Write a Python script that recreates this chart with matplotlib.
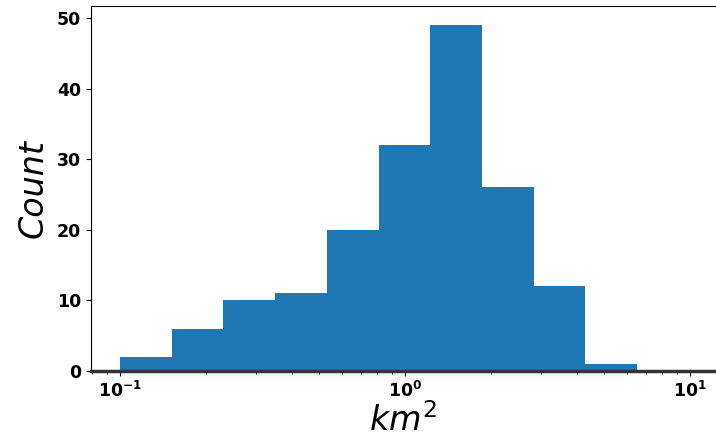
import numpy as np
import matplotlib
matplotlib.use("Agg")
import matplotlib.pyplot as plt

# bin edges (log spaced) and counts
bin_edges = np.geomspace(0.1, 6.53, 11)
counts = [2, 6, 10, 11, 20, 32, 49, 26, 12, 1]
bin_mids = np.sqrt(bin_edges[:-1] * bin_edges[1:])

fig = plt.figure(figsize=(7.16, 4.43), dpi=100)
ax = fig.add_axes([0.127, 0.1625, 0.873, 0.824])

ax.hist(bin_mids, bins=bin_edges, weights=counts, color="#1f77b4")
ax.set_xscale("log")
ax.set_xlim(0.0791, 12.34)
ax.set_ylim(0, 51.7)
ax.set_yticks([0, 10, 20, 30, 40, 50])

ax.spines["right"].set_visible(False)
ax.spines["bottom"].set_linewidth(2.5)
ax.spines["bottom"].set_color("#333333")

ax.tick_params(axis="both", which="major", labelsize=12.5)
for lab in ax.get_xticklabels() + ax.get_yticklabels():
    lab.set_fontweight("bold")
ax.set_xlabel("$km^2$", fontsize=24, labelpad=2)
ax.set_ylabel("Count", fontsize=24, style="italic", labelpad=5)

fig.savefig("out.png", dpi=100)
